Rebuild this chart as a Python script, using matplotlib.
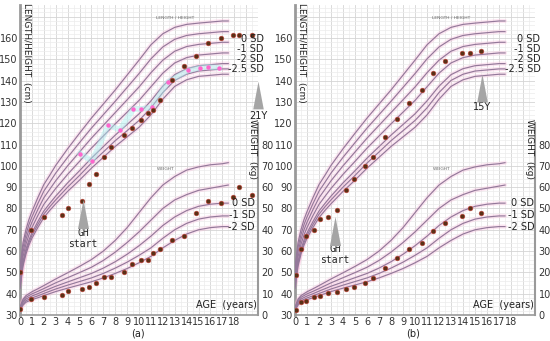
import matplotlib
matplotlib.use('Agg')
import matplotlib.pyplot as plt
from matplotlib.path import Path
from matplotlib.ticker import MultipleLocator, FixedLocator, FuncFormatter

plt.rcParams['font.family'] = ['Liberation Sans Narrow', 'DejaVu Sans']

# ---------------- reference curves (girls) ----------------
ages_h = [0, 0.25, 0.5, 0.75, 1, 1.5, 2, 2.5, 3, 3.5, 4, 5, 6, 7, 8, 9, 10, 11, 12, 13, 14, 15, 16, 17, 17.5]
h_p2 = [52.5, 63.9, 70.1, 74.8, 78.5, 85.1, 91.2, 95.6, 100.2, 104.1, 108.0, 115.3, 122.4, 129.0, 135.6, 142.6, 149.6, 156.8, 162.0, 165.0, 166.4, 167.0, 167.5, 168.0, 168.0]
h_p1 = [50.5, 61.7, 67.8, 72.4, 76.0, 82.3, 88.1, 92.3, 96.6, 100.3, 104.0, 110.9, 117.7, 124.0, 130.3, 136.8, 143.3, 150.2, 155.8, 159.4, 161.2, 162.0, 162.5, 163.0, 163.0]
h_0 = [48.5, 59.5, 65.5, 70.0, 73.5, 79.5, 85.0, 89.0, 93.0, 96.5, 100.0, 106.5, 113.0, 119.0, 125.0, 131.0, 137.0, 143.7, 149.6, 153.8, 156.0, 157.0, 157.5, 158.0, 158.0]
h_m1 = [46.5, 57.3, 63.2, 67.6, 71.0, 76.7, 81.9, 85.7, 89.4, 92.7, 96.0, 102.1, 108.3, 114.0, 119.7, 125.2, 130.7, 137.1, 143.5, 148.3, 150.8, 152.0, 152.5, 153.0, 153.0]
h_m2 = [44.5, 55.1, 60.9, 65.2, 68.5, 73.9, 78.8, 82.4, 85.8, 88.9, 92.0, 97.7, 103.6, 109.0, 114.4, 119.4, 124.4, 130.5, 137.4, 142.8, 145.6, 147.0, 147.5, 148.0, 148.0]
h_m25 = [43.5, 54.0, 59.8, 64.0, 67.3, 72.5, 77.3, 80.8, 84.0, 87.0, 90.0, 95.5, 101.3, 106.5, 111.8, 116.5, 121.3, 127.2, 134.4, 140.1, 143.0, 144.5, 145.0, 145.5, 145.5]
h_m3 = [42.5, 52.9, 58.6, 62.8, 66.0, 71.1, 75.7, 79.1, 82.2, 85.1, 88.0, 93.3, 98.9, 104.0, 109.1, 113.6, 118.1, 123.9, 131.3, 137.3, 140.4, 142.0, 142.5, 143.0, 143.0]
height_curves = [h_p2, h_p1, h_0, h_m1, h_m2, h_m25, h_m3]

ages_w = [0, 0.25, 0.5, 1, 1.5, 2, 3, 4, 5, 6, 7, 8, 9, 10, 11, 12, 13, 14, 15, 16, 17, 17.5]
w_p2 = [3.8, 7.4, 9.1, 10.9, 12.3, 13.8, 16.9, 19.8, 22.8, 26.0, 30.0, 35.0, 41.0, 48.0, 55.0, 61.0, 65.0, 68.0, 69.5, 70.5, 71.0, 71.5]
w_p1 = [3.4, 6.7, 8.3, 9.9, 11.1, 12.4, 15.1, 17.5, 19.9, 22.4, 25.6, 29.5, 34.0, 39.0, 44.5, 50.0, 54.0, 56.5, 58.5, 59.5, 60.5, 61.0]
w_0 = [3.0, 6.0, 7.5, 8.9, 10.0, 11.2, 13.5, 15.5, 17.5, 19.5, 22.0, 25.0, 28.5, 32.5, 37.0, 42.0, 46.0, 49.0, 51.0, 52.0, 52.5, 52.5]
w_m1 = [2.6, 5.3, 6.7, 8.0, 9.0, 10.1, 12.2, 14.0, 15.7, 17.4, 19.5, 22.0, 24.8, 28.0, 31.5, 36.0, 40.0, 43.0, 45.0, 46.0, 46.5, 46.5]
w_m2 = [2.2, 4.6, 6.0, 7.2, 8.1, 9.1, 11.0, 12.6, 14.1, 15.6, 17.4, 19.5, 21.8, 24.5, 27.5, 31.5, 35.0, 38.0, 40.0, 41.0, 41.5, 41.5]
weight_curves = [w_p2, w_p1, w_0, w_m1, w_m2]

# ---------------- patient (a) ----------------
a_age = [0, 0.92, 2.05, 3.5, 4.06, 5.18, 5.83, 6.36, 7.06, 7.65, 8.71, 9.38, 10.17, 10.78, 11.15, 11.76,
         12.8, 13.78, 14.79, 15.8, 16.86, 17.87, 18.43, 19.47]
a_height = [50.0, 70.0, 76.2, 77.0, 80.3, 83.4, 91.4, 96.3, 104.0, 108.8, 114.3, 117.7, 121.7, 124.8, 126.1, 131.1,
            140.1, 147.0, 151.5, 157.6, 160.0, 161.3, 161.6, 161.3]
a_weight = [3.0, 7.7, 8.5, 9.2, 11.1, 12.2, 13.3, 14.9, 17.7, 18.0, 20.3, 23.9, 26.0, 26.0, 29.0, 30.8,
            35.2, 36.9, 47.9, 53.7, 52.8, 55.6, 60.3, 56.3]
a2_age = [5.07, 6.05, 7.42, 8.4, 9.52, 10.17, 11.07, 12.41, 14.15, 15.1, 15.77, 16.75]
a2_height = [105.8, 102.2, 119.0, 117.0, 126.6, 126.7, 127.4, 139.3, 144.8, 146.0, 146.5, 146.0]

# ---------------- patient (b) ----------------
b_age = [0.06, 0.48, 0.92, 1.59, 2.09, 2.71, 3.49, 4.24, 4.89, 5.86, 6.5, 7.51, 8.52, 9.52, 10.55, 11.53,
         12.54, 13.88, 14.55, 15.52]
b_height = [48.7, 60.9, 67.0, 69.9, 74.9, 76.2, 79.1, 88.7, 93.9, 99.7, 104.3, 113.4, 122.2, 129.4, 135.5, 143.7,
            149.2, 152.8, 153.1, 153.9]
b_weight = [2.4, 6.0, 6.7, 8.3, 9.1, 10.5, 10.8, 12.4, 13.1, 15.0, 17.2, 21.9, 26.6, 30.8, 33.9, 39.3,
            43.2, 46.5, 50.1, 47.9]

x_ticks = list(range(0, 19))
h_ticks = list(range(30, 170, 10))
w_ticks = list(range(0, 90, 10))
h_sd_labels = ['0 SD', '-1 SD', '-2 SD', '-2.5 SD']
w_sd_labels = ['0 SD', '-1 SD', '-2 SD']

W, H = 550, 341
fig = plt.figure(figsize=(5.5, 3.41), dpi=100)
fig.patch.set_facecolor('white')


def rect(l, r, t, b):
    return [l / W, 1 - b / H, (r - l) / W, (b - t) / H]


tri = Path([(-0.38, -1.0), (0.38, -1.0), (0.0, 1.0), (-0.38, -1.0)],
           [Path.MOVETO, Path.LINETO, Path.LINETO, Path.CLOSEPOLY])

LINE = '#94789a'
HALO = '#f7b0d4'
DOT_F = '#5a3016'
DOT_E = '#c9483f'
GRAY = '#9a9a9a'
FS = 7


def panel(r, ages_p, hp, wp, gh, end_arrow, hlab_x, wlab_x, letter, letter_x, extra=None):
    ax = fig.add_axes(rect(*r))
    ax.set_xlim(0, 20)
    ax.set_ylim(30, 175.5)
    ax2 = ax.twinx()
    ax2.set_ylim(0, 145.5)
    ax2.set_xlim(0, 20)
    ax2.patch.set_visible(False)

    # grid
    ax.xaxis.set_major_locator(FixedLocator(list(range(0, 21))))
    ax.xaxis.set_minor_locator(MultipleLocator(0.5))
    ax.yaxis.set_major_locator(FixedLocator(list(range(30, 180, 10))))
    ax.yaxis.set_minor_locator(MultipleLocator(2))
    ax.grid(which='major', color='#d4d4d4', lw=0.6)
    ax.grid(which='minor', color='#ececec', lw=0.5)
    ax.set_axisbelow(True)
    ax.xaxis.set_major_formatter(FuncFormatter(lambda v, p: f'{int(v)}' if v in x_ticks else ''))
    ax.yaxis.set_major_formatter(FuncFormatter(lambda v, p: f'{int(v)}' if v in h_ticks else ''))
    ax.tick_params(which='both', length=0, labelsize=FS, colors='#333333', pad=1.5)
    ax2.yaxis.set_major_locator(FixedLocator(w_ticks))
    ax2.tick_params(which='both', length=0, labelsize=FS, colors='#333333', pad=2.5)

    for s in ['top', 'right']:
        ax.spines[s].set_visible(False)
    ax.spines['left'].set_color(GRAY)
    ax.spines['left'].set_linewidth(2)
    ax.spines['bottom'].set_color(GRAY)
    ax.spines['bottom'].set_linewidth(1.2)
    for s in ['top', 'left', 'bottom']:
        ax2.spines[s].set_visible(False)
    ax2.spines['right'].set_bounds(0, 90)
    ax2.spines['right'].set_color(GRAY)
    ax2.spines['right'].set_linewidth(1.5)

    # reference curves
    for c in height_curves:
        ax.plot(ages_h, c, color=HALO, lw=3.0, alpha=0.3, solid_capstyle='round', zorder=2)
        ax.plot(ages_h, c, color=LINE, lw=0.85, zorder=3)
    for c in weight_curves:
        ax2.plot(ages_w, c, color=HALO, lw=3.0, alpha=0.3, solid_capstyle='round', zorder=2)
        ax2.plot(ages_w, c, color=LINE, lw=0.85, zorder=3)
    if extra is not None:
        ea, eh = extra
        ax.plot(ea, eh, color='#a8f0f0', lw=4, alpha=0.45, zorder=3)
        ax.plot(ea, eh, 'o', ms=3.2, color='#ff66cc', mec='none', zorder=4)

    ax.plot(ages_p, hp, 'o', ms=3.4, mfc=DOT_F, mec=DOT_E, mew=0.4, zorder=5)
    ax2.plot(ages_p, wp, 'o', ms=3.4, mfc=DOT_F, mec=DOT_E, mew=0.4, zorder=5)

    # labels
    ax.text(0.55, 153, 'LENGTH/HEIGHT  (cm)', rotation=270, ha='center', va='center', fontsize=6.5, color='#222222')
    ax.text(13.0, 169.5, 'LENGTH / HEIGHT', ha='center', va='center', fontsize=3.2, color='#666666')
    ax2.text(12.2, 68.5, 'WEIGHT', ha='center', va='center', fontsize=3.2, color='#666666', zorder=6)
    ax2.text(19.55, 78, 'WEIGHT  (kg)', rotation=270, ha='center', va='center', fontsize=6.5, color='#222222')
    ax.text(19.9, 34.5, 'AGE  (years)', ha='right', va='center', fontsize=FS, color='#222222')

    for lab, yv in zip(h_sd_labels, [159.6, 154.9, 150.2, 145.5]):
        ax.text(hlab_x, yv, lab, ha='right', va='center', fontsize=FS, color='#222222', clip_on=False, zorder=6)
    for lab, yv in zip(w_sd_labels, [52.6, 46.9, 41.3]):
        ax2.text(wlab_x, yv, lab, ha='right', va='center', fontsize=FS, color='#222222', clip_on=False, zorder=6)

    gx, gtip, gbase, gtext = gh
    ax.plot([gx], [(gtip + gbase) / 2], marker=tri, ms=21, color='#a5a5a5', mec='none', zorder=6)
    ax.text(gx, gtext, 'GH\nstart', ha='center', va='center', fontsize=FS, linespacing=1.15, color='#222222',
            family=['DejaVu Sans Mono'])
    ex, etip, ebase, etext, elabel = end_arrow
    ax.plot([ex], [(etip + ebase) / 2], marker=tri, ms=20, color='#a5a5a5', mec='none', zorder=6, clip_on=False)
    ax.text(ex, etext, elabel, ha='center', va='center', fontsize=FS, color='#222222', clip_on=False)

    fig.text(letter_x / W, 1 - 333 / H, letter, ha='center', va='center', fontsize=FS, color='#222222')
    return ax


panel((20, 258, 5, 315), a_age, a_height, a_weight, (5.3, 82.3, 72.3, 65.8), (20.0, 137.8, 128.4, 123.6, '21Y'),
      20.5, 19.75, '(a)', 138, extra=(a2_age, a2_height))
panel((295, 535, 5, 315), b_age, b_height, b_weight, (3.35, 73.8, 65.3, 58.5), (15.6, 141.2, 132.3, 127.6, '15Y'),
      20.45, 19.95, '(b)', 413)

fig.savefig('out.png', dpi=100, facecolor='white')
